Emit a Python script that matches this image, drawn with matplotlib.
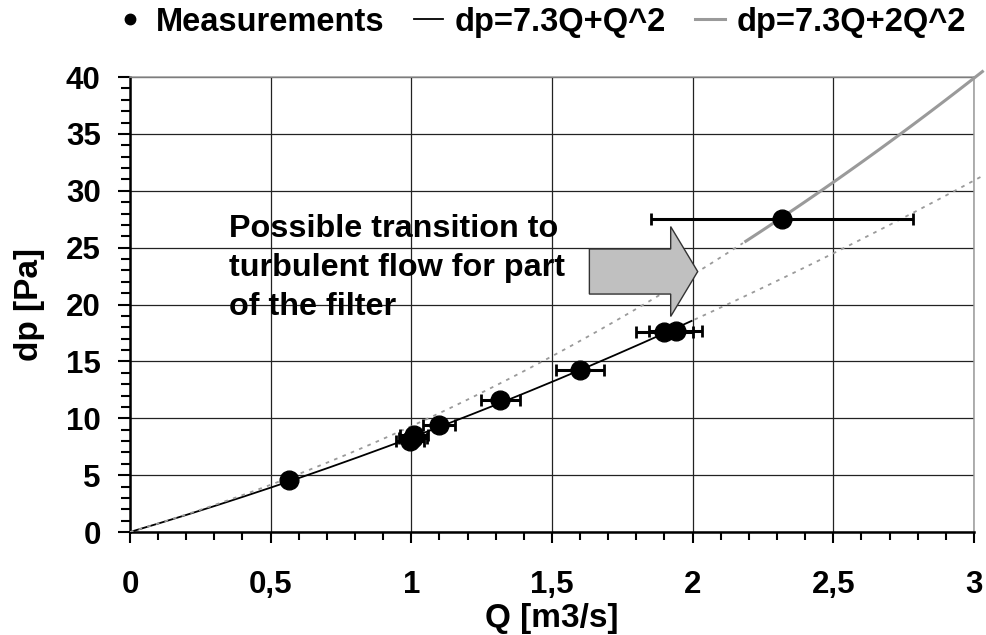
#!/usr/bin/env python3
"""Filter pressure drop vs. flow: measurements against two quadratic fits."""

import matplotlib

matplotlib.use("Agg")
import matplotlib.pyplot as plt
import numpy as np
from matplotlib.lines import Line2D
from matplotlib.patches import FancyArrow
from matplotlib.ticker import FuncFormatter, MultipleLocator

# measured flow, pressure drop and flow uncertainty
Q_MEAS = [0.566, 0.995, 1.005, 1.01, 1.10, 1.317, 1.60, 1.90, 1.94, 2.317]
DP_MEAS = [4.6, 8.0, 8.3, 8.5, 9.4, 11.6, 14.2, 17.6, 17.7, 27.5]
Q_ERR = [0.01, 0.05, 0.05, 0.05, 0.057, 0.068, 0.085, 0.10, 0.095, 0.465]

# dp = A*Q + B*Q^2
LIN_COEF = 7.3
QUAD_LAMINAR = 1.0
QUAD_TURB = 2.0
Q_END = 3.03
Q_LAMINAR_SOLID = 2.0    # laminar fit drawn solid up to here
Q_TURB_SOLID = 2.18      # turbulent fit drawn solid from here

NOTE = "Possible transition to\nturbulent flow for part\nof the filter"

TICK_FONT = 22.5
LABEL_FONT = 24
LEGEND_FONT = 23.5
NOTE_FONT = 23.3
GRAY = "#9a9a9a"


def dp_fit(q, quad):
    return LIN_COEF * q + quad * q ** 2


def comma_fmt(v, _pos):
    return f"{v:g}".replace(".", ",")


def main() -> None:
    plt.rcParams.update({
        "font.family": ["Liberation Sans", "DejaVu Sans"],
        "font.weight": "bold",
        "font.size": TICK_FONT,
    })

    fig = plt.figure(figsize=(9.86, 6.35), dpi=100)
    ax = fig.add_axes([0.1318, 0.1622, 0.8560, 0.7165])

    q = np.linspace(0, Q_END, 300)
    lam = dp_fit(q, QUAD_LAMINAR)
    turb = dp_fit(q, QUAD_TURB)
    dots = (0, (2, 3))

    ax.plot(q[q <= Q_LAMINAR_SOLID], lam[q <= Q_LAMINAR_SOLID],
            color="black", lw=1.3, zorder=3)
    ax.plot(q[q >= Q_LAMINAR_SOLID], lam[q >= Q_LAMINAR_SOLID],
            color=GRAY, lw=1.3, ls=dots, zorder=3, clip_on=False)
    ax.plot(q[q <= Q_TURB_SOLID], turb[q <= Q_TURB_SOLID],
            color=GRAY, lw=1.3, ls=dots, zorder=3)
    ax.plot(q[q >= Q_TURB_SOLID], turb[q >= Q_TURB_SOLID],
            color=GRAY, lw=2.2, zorder=3, clip_on=False)

    ax.errorbar(Q_MEAS, DP_MEAS, xerr=Q_ERR, fmt="o", color="black",
                ms=13.5, elinewidth=2.2, capsize=4.5, capthick=2.0, zorder=5)

    ax.add_patch(FancyArrow(1.633, 22.9, 0.385, 0, width=3.96,
                            head_width=7.9, head_length=0.096,
                            length_includes_head=True, facecolor="#c0c0c0",
                            edgecolor="#333333", lw=1.0, zorder=4))
    ax.text(0.352, 23.25, NOTE, ha="left", va="center", linespacing=1.39,
            fontsize=NOTE_FONT, fontweight="bold", zorder=6)

    ax.set_xlim(0, 3)
    ax.set_ylim(0, 40)
    ax.xaxis.set_major_locator(MultipleLocator(0.5))
    ax.xaxis.set_minor_locator(MultipleLocator(0.1))
    ax.yaxis.set_major_locator(MultipleLocator(5))
    ax.yaxis.set_minor_locator(MultipleLocator(1))
    ax.xaxis.set_major_formatter(FuncFormatter(comma_fmt))
    ax.grid(True, which="major", color="#222222", lw=0.9, zorder=0)
    ax.set_axisbelow(True)

    ax.tick_params(axis="x", which="major", direction="out", length=8,
                   width=1.5, pad=19, labelsize=TICK_FONT)
    ax.tick_params(axis="x", which="minor", direction="out", length=5.8,
                   width=1.5)
    ax.tick_params(axis="y", which="major", direction="out", length=8.6,
                   width=1.5, pad=12.5, labelsize=TICK_FONT)
    ax.tick_params(axis="y", which="minor", direction="out", length=6.5,
                   width=1.5)

    for side in ("left", "bottom"):
        ax.spines[side].set_color("black")
        ax.spines[side].set_linewidth(1.8)
    for side in ("top", "right"):
        ax.spines[side].set_color(GRAY)
        ax.spines[side].set_linewidth(1.1)

    ax.set_xlabel("Q [m3/s]", fontsize=LABEL_FONT, fontweight="bold")
    ax.set_ylabel("dp [Pa]", fontsize=LABEL_FONT, fontweight="bold")
    ax.xaxis.set_label_coords(0.5, -0.156)
    ax.yaxis.set_label_coords(-0.101, 0.5)

    handles = [
        Line2D([], [], marker="o", ls="none", color="black", ms=7.5),
        Line2D([], [], color="black", lw=1.3),
        Line2D([], [], color=GRAY, lw=2.2),
    ]
    labels = ["Measurements", "dp=7.3Q+Q^2", "dp=7.3Q+2Q^2"]
    fig.legend(handles, labels, loc="center", bbox_to_anchor=(0.548, 0.965),
               ncol=3, frameon=False, handlelength=0.9, handletextpad=0.35,
               columnspacing=0.9, fontsize=LEGEND_FONT, borderpad=0)

    fig.savefig("out.png", dpi=100, facecolor="white")
    plt.close(fig)


if __name__ == "__main__":
    main()
